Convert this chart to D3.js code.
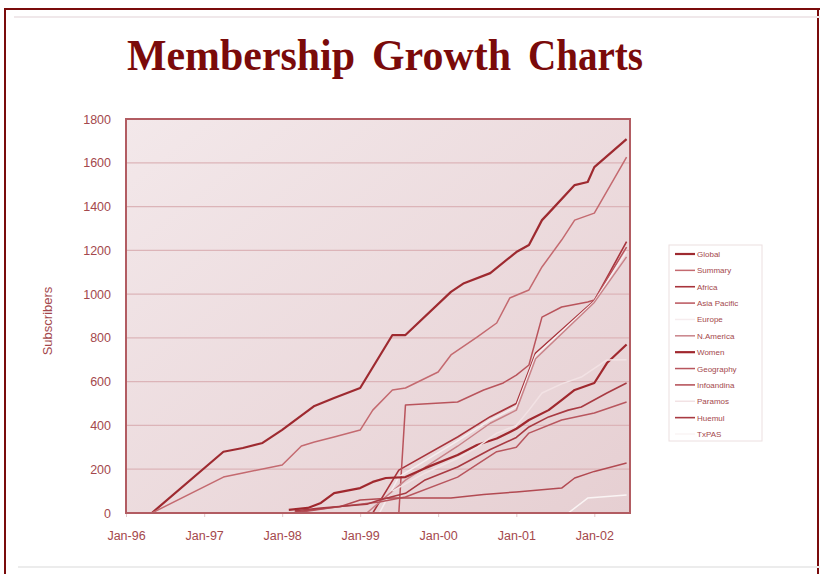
<!DOCTYPE html>
<html><head><meta charset="utf-8">
<script src="https://cdn.jsdelivr.net/npm/d3@7"></script>
<style>
html,body{margin:0;padding:0;background:#fff;}
svg{display:block;}
</style></head>
<body><svg id="c" width="820" height="574"></svg>
<script>
const titleWords = ["Membership","Growth","Charts"];
const yAxisTitle = "Subscribers";
const yTicks = [0,200,400,600,800,1000,1200,1400,1600,1800];
const xTickLabels = ["Jan-96","Jan-97","Jan-98","Jan-99","Jan-00","Jan-01","Jan-02"];
const seriesNames = ["Global","Summary","Africa","Asia Pacific","Europe","N.America","Women","Geography","Infoandina","Paramos","Huemul","TxPAS"];

const globalData = [["1996-05",0],["1997-04",280],["1997-07",297],["1997-10",320],["1998-01",380],["1998-06",489],["1998-09",525],["1999-01",571],["1999-06",813],["1999-08",813],["2000-03",1010],["2000-05",1050],["2000-09",1096],["2001-01",1192],["2001-03",1224],["2001-05",1338],["2001-06",1370],["2001-10",1498],["2001-12",1512],["2002-01",1580],["2002-06",1708]];
const summaryData = [["1996-05",0],["1997-04",164],["1997-07",183],["1998-01",219],["1998-04",306],["1998-06",324],["1998-09",347],["1999-01",379],["1999-03",470],["1999-06",562],["1999-08",571],["2000-01",644],["2000-03",722],["2000-07",804],["2000-10",868],["2000-12",982],["2001-03",1019],["2001-05",1124],["2001-08",1247],["2001-10",1338],["2002-01",1370],["2002-06",1626]];
const africaData = [["1999-03",0],["1999-07",196],["2000-04",347],["2000-09",440],["2001-01",500],["2001-04",731],["2002-01",970],["2002-06",1240]];
const asiaPacificData = [["1999-07",0],["1999-08",493],["2000-04",507],["2000-08",562],["2000-11",594],["2001-01",630],["2001-03",676],["2001-05",895],["2001-08",941],["2001-12",964],["2002-01",973],["2002-06",1215]];
const europeData = [["1999-04",0],["1999-07",165],["2000-04",330],["2000-09",425],["2001-01",485],["2001-04",720],["2002-01",966],["2002-06",1195]];
const nAmericaData = [["1999-02",0],["1999-08",150],["2000-04",305],["2000-09",410],["2001-01",470],["2001-04",705],["2002-01",962],["2002-06",1170]];
const womenData = [["1998-02",14],["1998-05",23],["1998-07",46],["1998-09",91],["1999-01",114],["1999-03",142],["1999-05",160],["1999-08",164],["1999-11",205],["2000-04",265],["2000-07",311],["2000-10",340],["2001-01",385],["2001-03",425],["2001-06",470],["2001-08",516],["2001-10",562],["2002-01",594],["2002-03",685],["2002-06",770]];
const geographyData = [["1998-04",5],["1998-10",30],["1999-04",50],["1999-08",73],["2000-04",164],["2000-10",280],["2001-01",300],["2001-03",365],["2001-08",425],["2002-01",457],["2002-06",507]];
const infoandinaData = [["1998-03",5],["1998-10",30],["1999-01",59],["1999-06",68],["2000-03",68],["2000-08",85],["2001-01",96],["2001-08",114],["2001-10",160],["2002-01",190],["2002-06",228]];
const paramosData = [["1999-06",100],["1999-11",183],["2000-04",250],["2000-07",300],["2000-10",365],["2001-01",400],["2001-03",470],["2001-05",548],["2001-08",590],["2001-11",621],["2002-03",699],["2002-06",700]];
const huemulData = [["1998-03",10],["1998-07",23],["1999-02",40],["1999-04",59],["1999-08",90],["1999-11",151],["2000-04",210],["2000-09",290],["2001-01",345],["2001-03",393],["2001-06",439],["2001-09",470],["2001-11",484],["2002-03",548],["2002-06",594]];
const txpasData = [["2000-12",0],["2001-09",0],["2001-12",68],["2002-06",82]];

const seriesData = [globalData,summaryData,africaData,asiaPacificData,europeData,nAmericaData,womenData,geographyData,infoandinaData,paramosData,huemulData,txpasData];
const seriesColors = ["#9e2a30","#c46a70","#a8343c","#b9545c","#f6ecee","#c98288","#a0282e","#b8565e","#b24a52","#f2e2e4","#a83a42","#faf4f4"];
const seriesWidths = [2.2,1.5,1.6,1.5,1.5,1.5,2.2,1.5,1.5,1.5,1.6,1.5];

const svg = d3.select("#c");
const textCol = "#a4484c";
const parse = d3.timeParse("%Y-%m");

// frame
svg.append("line").attr("x1",4).attr("x2",820).attr("y1",9).attr("y2",9).attr("stroke","#7a0c0c").attr("stroke-width",2);
svg.append("line").attr("x1",5).attr("x2",5).attr("y1",8).attr("y2",574).attr("stroke","#7a0c0c").attr("stroke-width",2);
svg.append("line").attr("x1",818).attr("x2",818).attr("y1",8).attr("y2",574).attr("stroke","#7a0c0c").attr("stroke-width",2);
svg.append("line").attr("x1",14).attr("x2",820).attr("y1",17).attr("y2",17).attr("stroke","#f0e8ea").attr("stroke-width",2);
svg.append("line").attr("x1",18).attr("x2",820).attr("y1",567).attr("y2",567).attr("stroke","#ececec").attr("stroke-width",2);

// title (words placed individually)
const wordX = [127,372,528], wordW = [228,139,115];
titleWords.forEach((w,i)=>{
  svg.append("text").attr("x",wordX[i]).attr("y",70).attr("textLength",wordW[i]).attr("lengthAdjust","spacingAndGlyphs")
    .attr("font-family","Liberation Serif, Times New Roman, serif").attr("font-weight","bold").attr("font-size",45)
    .attr("fill","#7a0a0a").text(w);
});

const L=126,R=630,T=119,B=513;
const x = d3.scaleTime().domain([new Date(1996,0,1), new Date(2002,5,17)]).range([L,R]);
const y = d3.scaleLinear().domain([0,1800]).range([B,T]);

const defs = svg.append("defs");
const g = defs.append("linearGradient").attr("id","bg").attr("x1","0").attr("y1","0").attr("x2","1").attr("y2","1");
g.append("stop").attr("offset","0").attr("stop-color","#f3e8ea");
g.append("stop").attr("offset","1").attr("stop-color","#e6cfd2");
svg.append("rect").attr("x",L).attr("y",T).attr("width",R-L).attr("height",B-T).attr("fill","url(#bg)");

// grid
svg.append("g").selectAll("line").data(yTicks.slice(1,-1)).join("line")
  .attr("x1",L).attr("x2",R).attr("y1",d=>y(d)).attr("y2",d=>y(d))
  .attr("stroke","#dcb4b8").attr("stroke-width",1.2);

// y axis labels
const yAxis = d3.axisLeft(y).tickValues(yTicks).tickFormat(d3.format("d")).tickSize(0).tickPadding(15);
const ya = svg.append("g").attr("transform",`translate(${L},0)`).call(yAxis);
ya.select(".domain").remove();
ya.selectAll("text").attr("fill",textCol).attr("font-family","Liberation Sans, Arial, sans-serif").attr("font-size",12.5);

// x axis
const xTickDates = xTickLabels.map(s=>d3.timeParse("%b-%y")(s));
const xAxis = d3.axisBottom(x).tickValues(xTickDates).tickFormat((d,i)=>xTickLabels[i]).tickSize(4).tickPadding(14);
const xa = svg.append("g").attr("transform",`translate(0,${B})`).call(xAxis);
xa.select(".domain").remove();
xa.selectAll("line").attr("stroke","#e0c8ca");
xa.selectAll("text").attr("fill",textCol).attr("font-family","Liberation Sans, Arial, sans-serif").attr("font-size",12.5);

svg.append("text").attr("transform",`translate(52,${(T+B)/2+5}) rotate(-90)`).attr("text-anchor","middle")
  .attr("fill",textCol).attr("font-family","Liberation Sans, Arial, sans-serif").attr("font-size",13).text(yAxisTitle);

// lines
const line = d3.line().x(d=>x(parse(d[0]))).y(d=>y(d[1]));
const clip = defs.append("clipPath").attr("id","clp");
clip.append("rect").attr("x",L).attr("y",T-2).attr("width",R-L).attr("height",B-T+2);
const lg = svg.append("g").attr("clip-path","url(#clp)");
seriesData.forEach((s,i)=>{
  lg.append("path").attr("d",line(s)).attr("fill","none").attr("stroke",seriesColors[i])
    .attr("stroke-width",seriesWidths[i]).attr("stroke-linejoin","round");
});

// plot border
svg.append("rect").attr("x",L).attr("y",T).attr("width",R-L).attr("height",B-T).attr("fill","none")
  .attr("stroke","#b25c62").attr("stroke-width",2);

// legend
const lgd = svg.append("g");
lgd.append("rect").attr("x",669).attr("y",245).attr("width",93).attr("height",196).attr("fill","#fff").attr("stroke","#ecdfe0").attr("stroke-width",1);
const rowY = d3.scalePoint().domain(seriesNames).range([254,434]);
seriesNames.forEach((n,i)=>{
  const yy = rowY(n);
  lgd.append("line").attr("x1",675).attr("x2",695).attr("y1",yy).attr("y2",yy).attr("stroke",seriesColors[i]).attr("stroke-width",Math.min(seriesWidths[i],2.2));
  lgd.append("text").attr("x",697).attr("y",yy+3).attr("font-family","Liberation Sans, Arial, sans-serif").attr("font-size",8)
    .attr("fill",textCol).text(n);
});
</script></body></html>
